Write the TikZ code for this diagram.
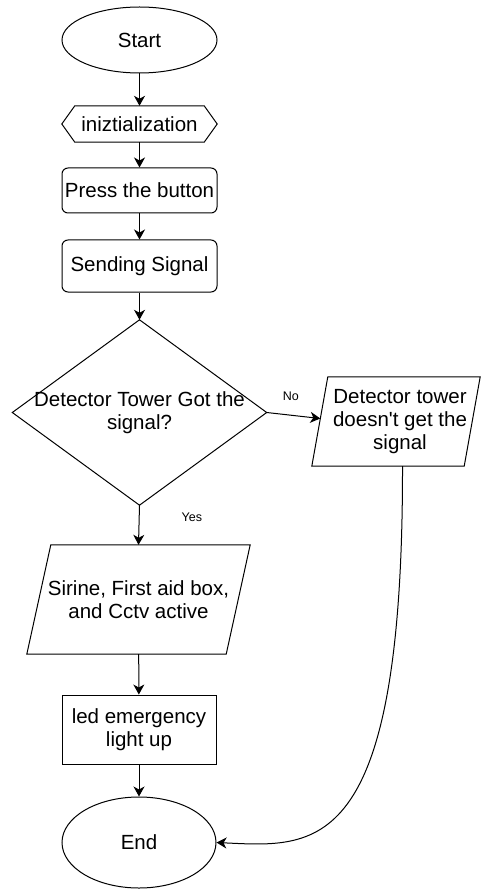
\documentclass[tikz,border=0pt]{standalone}
\usepackage{fontspec}
\setmainfont{Liberation Sans}[Ligatures=TeXOff]
\usetikzlibrary{shapes.geometric,arrows.meta,calc}
\begin{document}
\begin{tikzpicture}[x=1pt,y=-1pt,
  every node/.style={font=\fontsize{20.5}{23}\selectfont, inner sep=0pt, align=center},
  ln/.style={line width=1pt, black},
  term/.style={ln, draw, ellipse},
  proc/.style={ln, draw, rectangle},
  box/.style={rectangle},
  arr/.style={ln, -{Stealth[length=10pt,width=11pt,inset=3pt]}},
  lbl/.style={font=\fontsize{12.5}{14}\selectfont}]
\useasboundingbox (0,0) rectangle (481,890);

% nodes
\node[term, minimum width=155, minimum height=66] (start) at (139.5,40) {Start};
\node[box, minimum width=155, minimum height=36] (init) at (139.5,124) {iniztialization};
\node[proc, rounded corners=6pt, minimum width=155, minimum height=45] (press) at (139.5,190.5) {Press the button};
\node[proc, rounded corners=6pt, minimum width=155, minimum height=52] (send) at (139.5,266) {Sending Signal};
\node[box, minimum width=254, minimum height=185] (dia) at (139.5,412.5) {Detector Tower Got the\\signal?};
\node[box, minimum width=168, minimum height=89] (nog) at (396,421.5) {\hspace*{8pt}Detector tower\\\hspace*{8pt}doesn't get the\\\hspace*{8pt}signal};
\node[box, minimum width=223, minimum height=109] (act) at (138.5,599.5) {Sirine, First aid box,\\and Cctv active};
\node[proc, minimum width=154, minimum height=69] (led) at (139,729.5) {led emergency\\light up};
\node[term, minimum width=154, minimum height=91] (endn) at (139,842.5) {End};

% outlines drawn from anchors
\draw[ln] (init.west) -- ($(init.north west)+(13,0)$) -- ($(init.north east)+(-13,0)$) -- (init.east)
  -- ($(init.south east)+(-13,0)$) -- ($(init.south west)+(13,0)$) -- cycle;
\draw[ln] (dia.north) -- (dia.east) -- (dia.south) -- (dia.west) -- cycle;
\draw[ln] ($(nog.north west)+(16,0)$) -- (nog.north east) -- ($(nog.south east)+(-16,0)$) -- (nog.south west) -- cycle;
\draw[ln] ($(act.north west)+(24,0)$) -- (act.north east) -- ($(act.south east)+(-24,0)$) -- (act.south west) -- cycle;

% connectors
\coordinate (noin) at ($(dia.east -| nog.west)+(8.5,6)$);
\coordinate (noout) at ($(nog.south)+(6.5,0)$);
\draw[arr] (start) -- (init);
\draw[arr] (init) -- (press);
\draw[arr] (press) -- (send);
\draw[arr] (send) -- (dia.north);
\draw[arr] (dia.east) -- (noin) node[lbl, pos=0.45, above=14pt] (nolbl) {No};
\draw[arr] (dia.south) -- (act.north) node[lbl, pos=0.3, right=42pt] (yeslbl) {Yes};
\draw[arr] (act) -- (led);
\draw[arr] (led) -- (endn);
\draw[arr] (noout) .. controls (403,860) and (315,847) .. (endn.east);
\end{tikzpicture}
\end{document}
